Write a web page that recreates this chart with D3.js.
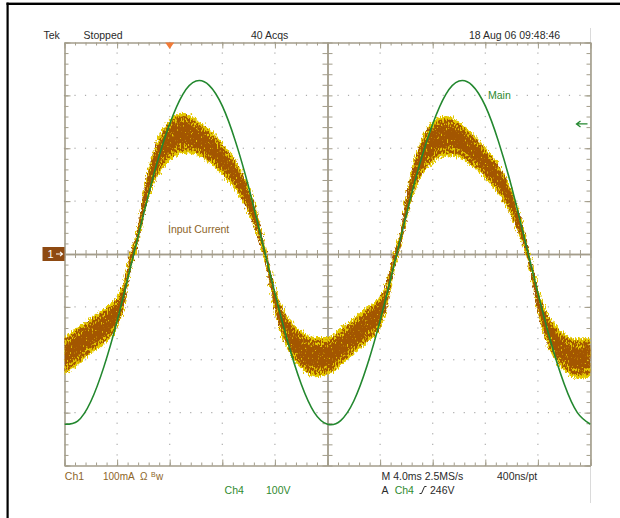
<!DOCTYPE html>
<html>
<head>
<meta charset="utf-8">
<script src="https://cdn.jsdelivr.net/npm/d3@7"></script>
<style>
  html, body { margin: 0; padding: 0; background: #fff; }
  svg { display: block; font-family: "Liberation Sans", Arial, sans-serif; }
</style>
</head>
<body>
<svg id="scope" width="620" height="518"></svg>
<script>
// ---- acquisition settings ----
const timeStartMs = -8;          // left edge, ms relative to trigger
const timeEndMs = 32;            // right edge (10 div x 4 ms)
const timeGridMs = [-8, -4, 0, 4, 8, 12, 16, 20, 24, 28, 32];
const levelGrid = [-400, -300, -200, -100, 0, 100, 200, 300, 400]; // 100 V/div (Ch4), 100 mA/div (Ch1)
const triggerTimeMs = 0;
const triggerLevelV = 246;

// ---- Ch4: line voltage (V), sampled every 1 ms from -8 ms to 32 ms ----
const ch4Times = [-8, -7, -6, -5, -4, -3, -2, -1, 0, 1, 2, 3, 4, 5, 6, 7, 8, 9, 10, 11, 12,
  13, 14, 15, 16, 17, 18, 19, 20, 21, 22, 23, 24, 25, 26, 27, 28, 29, 30, 31, 32];
const ch4Volts = [-322, -316, -279, -213, -127, -27, 74, 169, 246, 302, 327, 319, 280, 213, 127, 27,
  -74, -168, -246, -300, -322, -315, -278, -212, -126, -27, 75, 169, 246, 302, 327, 319, 280, 213, 127, 27,
  -74, -168, -246, -300, -322];

// ---- Ch1: input current (mA), band centre and noise half-width ----
const ch1Times = [-8, -7, -6, -5, -4, -3.5, -3, -2.5, -2, -1.5, -1, -0.5, 0, 1, 2, 3, 4, 5, 6, 6.5, 7, 7.3, 7.6,
  8, 8.5, 9, 10, 11, 12, 13, 14, 15, 16, 16.5, 17, 17.5, 18, 18.5, 19, 19.5, 20, 21, 22, 23, 24, 25, 26, 26.5,
  27, 27.3, 27.6, 28, 28.5, 29, 30, 31, 32];
const ch1Mid = [-193, -174, -155, -136, -110, -78, -15, 26, 93, 144, 178, 200, 216, 229, 221, 204, 180, 149, 102, 68,
  26, -4, -40, -87, -125, -151, -181, -195, -193, -176, -155, -134, -110, -78, -19, 23, 87, 140, 174, 197, 212, 223,
  216, 197, 172, 142, 96, 62, 23, -6, -42, -87, -129, -155, -185, -198, -195];
const ch1Spread = [36, 36, 34, 34, 30, 25, 17, 15, 23, 30, 34, 38, 40, 38, 34, 32, 30, 28, 26, 23,
  17, 13, 17, 23, 28, 32, 36, 38, 36, 36, 34, 34, 30, 25, 17, 15, 23, 30, 34, 38, 40, 38,
  34, 32, 30, 28, 26, 23, 17, 13, 17, 23, 28, 32, 36, 38, 36];

// ---- screen texts ----
const headerTexts = [
  { text: "Tek", at: 43.5 },
  { text: "Stopped", at: 83.5 },
  { text: "40 Acqs", at: 251 },
  { text: "18 Aug 06 09:48:46", at: 469 }
];

const C = {
  frame: "#a39d8b",
  dot: "#ababab",
  green: "#23882f",
  greenText: "#2f8a2f",
  brownText: "#8d6529",
  yellow: "#e4c800",
  brown: "#a35600",
  marker: "#8e4a12",
  trigger: "#f27a36",
  ink: "#2a2a2a"
};

const svg = d3.select("#scope");
const plot = { left: 64.5, right: 590.5, top: 42.5, bottom: 465.5 };

const x = d3.scaleLinear().domain([timeStartMs, timeEndMs]).range([plot.left, plot.right]);
const yV = d3.scaleLinear().domain([levelGrid[0], levelGrid[levelGrid.length - 1]]).range([plot.bottom, plot.top]);
const yI = d3.scaleLinear().domain([levelGrid[0], levelGrid[levelGrid.length - 1]]).range([plot.bottom, plot.top]);

const tStep = (timeGridMs[1] - timeGridMs[0]) / 5;
const lStep = (levelGrid[1] - levelGrid[0]) / 5;
const minorT = d3.range(0, 51).map(i => timeStartMs + i * tStep);
const minorL = d3.range(0, 41).map(i => levelGrid[0] + i * lStep);

// ---- page frame ----
svg.append("rect").attr("x", 6.5).attr("y", 2.6).attr("width", 2.2).attr("height", 516).attr("fill", "#000");
svg.append("rect").attr("x", 6.5).attr("y", 2.6).attr("width", 614).attr("height", 2.4).attr("fill", "#000");
svg.append("line").attr("x1", plot.right).attr("x2", plot.right).attr("y1", 28).attr("y2", 503)
  .attr("stroke", "#dadada").attr("stroke-width", 1);

// ---- filters for the noisy current band ----
const defs = svg.append("defs");
defs.append("clipPath").attr("id", "screen").append("rect")
  .attr("x", plot.left).attr("y", plot.top)
  .attr("width", plot.right - plot.left).attr("height", plot.bottom - plot.top);

function noisyFilter(id, seed, freq, scale, maskFreq, maskGain, maskBias) {
  const f = defs.append("filter").attr("id", id)
    .attr("x", "-3%").attr("y", "-10%").attr("width", "106%").attr("height", "120%")
    .attr("color-interpolation-filters", "sRGB");
  f.append("feTurbulence").attr("type", "fractalNoise").attr("baseFrequency", freq)
    .attr("numOctaves", 2).attr("seed", seed).attr("result", "noise");
  f.append("feDisplacementMap").attr("in", "SourceGraphic").attr("in2", "noise")
    .attr("scale", scale).attr("xChannelSelector", "R").attr("yChannelSelector", "G").attr("result", "moved");
  if (maskFreq) {
    f.append("feTurbulence").attr("type", "fractalNoise").attr("baseFrequency", maskFreq)
      .attr("numOctaves", 1).attr("seed", seed + 17).attr("result", "grain");
    f.append("feColorMatrix").attr("in", "grain").attr("type", "matrix")
      .attr("values", `0 0 0 0 0  0 0 0 0 0  0 0 0 0 0  ${maskGain} 0 0 0 ${maskBias}`).attr("result", "mask");
    f.append("feComposite").attr("in", "moved").attr("in2", "mask").attr("operator", "in");
  }
}
noisyFilter("fray", 4, "0.9 0.25", 8);
noisyFilter("speck", 9, "0.9 0.3", 7, "0.7 0.35", 10, -4.0);
noisyFilter("core", 13, "0.8 0.3", 5, "0.8 0.4", 10, -3.2);

// ---- graticule dots ----
const dots = svg.append("g").attr("fill", C.dot);
timeGridMs.slice(1, -1).forEach(t => {
  if (t === 12) return;
  minorL.forEach(v => dots.append("rect").attr("x", x(t) - 0.6).attr("y", yV(v) - 0.6).attr("width", 1.2).attr("height", 1.2));
});
levelGrid.slice(1, -1).forEach(v => {
  if (v === 0) return;
  minorT.forEach(t => dots.append("rect").attr("x", x(t) - 0.6).attr("y", yV(v) - 0.6).attr("width", 1.2).attr("height", 1.2));
});

// ---- graticule frame and centre cross, built from axes ----
function drawAxis(axis, tx, ty, width) {
  const g = svg.append("g").attr("transform", `translate(${tx},${ty})`).call(axis);
  g.selectAll("text").remove();
  g.selectAll("path.domain").attr("stroke", C.frame).attr("stroke-width", width);
  g.selectAll(".tick line").attr("stroke", C.frame).attr("stroke-width", 1);
  return g;
}
const midT = timeGridMs[5], midL = levelGrid[4];
// edges: minor ticks
drawAxis(d3.axisBottom(x).tickValues(minorT).tickSize(3).tickSizeOuter(0).tickFormat(""), 0, plot.top, 1.6);
drawAxis(d3.axisTop(x).tickValues(minorT).tickSize(3).tickSizeOuter(0).tickFormat(""), 0, plot.bottom, 1.6);
drawAxis(d3.axisRight(yV).tickValues(minorL).tickSize(4).tickSizeOuter(0).tickFormat(""), plot.left, 0, 1.6);
drawAxis(d3.axisLeft(yV).tickValues(minorL).tickSize(4).tickSizeOuter(0).tickFormat(""), plot.right, 0, 1.6);
// edges: major ticks
drawAxis(d3.axisBottom(x).tickValues(timeGridMs).tickSize(6).tickSizeOuter(0).tickFormat(""), 0, plot.top, 0);
drawAxis(d3.axisTop(x).tickValues(timeGridMs).tickSize(6).tickSizeOuter(0).tickFormat(""), 0, plot.bottom, 0);
drawAxis(d3.axisRight(yV).tickValues(levelGrid).tickSize(6).tickSizeOuter(0).tickFormat(""), plot.left, 0, 0);
drawAxis(d3.axisLeft(yV).tickValues(levelGrid).tickSize(6).tickSizeOuter(0).tickFormat(""), plot.right, 0, 0);
// centre cross
drawAxis(d3.axisTop(x).tickValues(minorT).tickSize(4).tickSizeOuter(0).tickFormat(""), 0, yV(midL), 1.4);
drawAxis(d3.axisBottom(x).tickValues(minorT).tickSize(4).tickSizeOuter(0).tickFormat(""), 0, yV(midL), 1.4);
drawAxis(d3.axisLeft(yV).tickValues(minorL).tickSize(5).tickSizeOuter(0).tickFormat(""), x(midT), 0, 1.4);
drawAxis(d3.axisRight(yV).tickValues(minorL).tickSize(5).tickSizeOuter(0).tickFormat(""), x(midT), 0, 1.4);

// ---- traces ----
const traces = svg.append("g").attr("clip-path", "url(#screen)");
const band = ch1Times.map((t, i) => ({ t, mid: ch1Mid[i], spread: ch1Spread[i] }));
const bandArea = k => d3.area()
  .x(d => x(d.t))
  .y0(d => yI(d.mid - d.spread * k))
  .y1(d => yI(d.mid + d.spread * k))
  .curve(d3.curveMonotoneX);

traces.append("path").datum(band).attr("d", bandArea(1)).attr("fill", C.yellow).attr("filter", "url(#fray)");
traces.append("path").datum(band).attr("d", bandArea(0.85)).attr("fill", C.brown).attr("filter", "url(#speck)");
traces.append("path").datum(band).attr("d", bandArea(0.5)).attr("fill", C.brown).attr("filter", "url(#core)");

const volts = ch4Times.map((t, i) => ({ t, v: ch4Volts[i] }));
traces.append("path").datum(volts)
  .attr("d", d3.line().x(d => x(d.t)).y(d => yV(d.v)).curve(d3.curveNatural))
  .attr("fill", "none").attr("stroke", C.green).attr("stroke-width", 1.6);

// ---- markers ----
const tx = x(triggerTimeMs);
svg.append("path").attr("d", `M${tx - 4.5},${plot.top} L${tx + 4.5},${plot.top} L${tx},${plot.top + 6.5}Z`)
  .attr("fill", C.trigger);

const ty = yV(triggerLevelV);
svg.append("path").attr("d", `M${plot.right - 3},${ty} H${plot.right - 14} M${plot.right - 10},${ty - 3} L${plot.right - 14},${ty} L${plot.right - 10},${ty + 3}`)
  .attr("fill", "none").attr("stroke", C.green).attr("stroke-width", 1.3);

const y0 = yI(0);
svg.append("rect").attr("x", 42.5).attr("y", y0 - 7).attr("width", 22).attr("height", 14).attr("fill", C.marker);
svg.append("text").attr("x", 47.5).attr("y", y0 + 4).attr("fill", "#fff").attr("font-size", 11).text("1");
svg.append("path").attr("d", `M56,${y0} H62.5 M60,${y0 - 2.2} L62.5,${y0} L60,${y0 + 2.2}`)
  .attr("fill", "none").attr("stroke", "#fff").attr("stroke-width", 1.1);

// ---- labels ----
const label = (tx, ty, str, color, size) => svg.append("text")
  .attr("x", tx).attr("y", ty).attr("fill", color).attr("font-size", size || 10.5).text(str);

headerTexts.forEach(h => label(h.at, 38.5, h.text, C.ink));
label(168, 233, "Input Current", C.brownText);
label(488, 99, "Main", C.greenText);

label(64.8, 480, "Ch1", C.brownText);
label(103, 480, "100mA", C.brownText, 10);
label(140, 480, "Ω", C.brownText, 10);
label(151, 477, "B", C.brownText, 7);
label(156, 480, "w", C.brownText, 10);
label(224.6, 494, "Ch4", C.greenText);
label(266, 494, "100V", C.greenText);

label(381.6, 480, "M 4.0ms 2.5MS/s", C.ink);
label(497, 480, "400ns/pt", C.ink);
label(381.6, 494, "A", C.ink);
label(394.7, 494, "Ch4", C.greenText);
svg.append("path").attr("d", "M419.5,493.5 H421.5 L424.5,486.5 H426.5")
  .attr("fill", "none").attr("stroke", C.ink).attr("stroke-width", 1);
label(430, 494, "246V", C.ink);
</script>
</body>
</html>
